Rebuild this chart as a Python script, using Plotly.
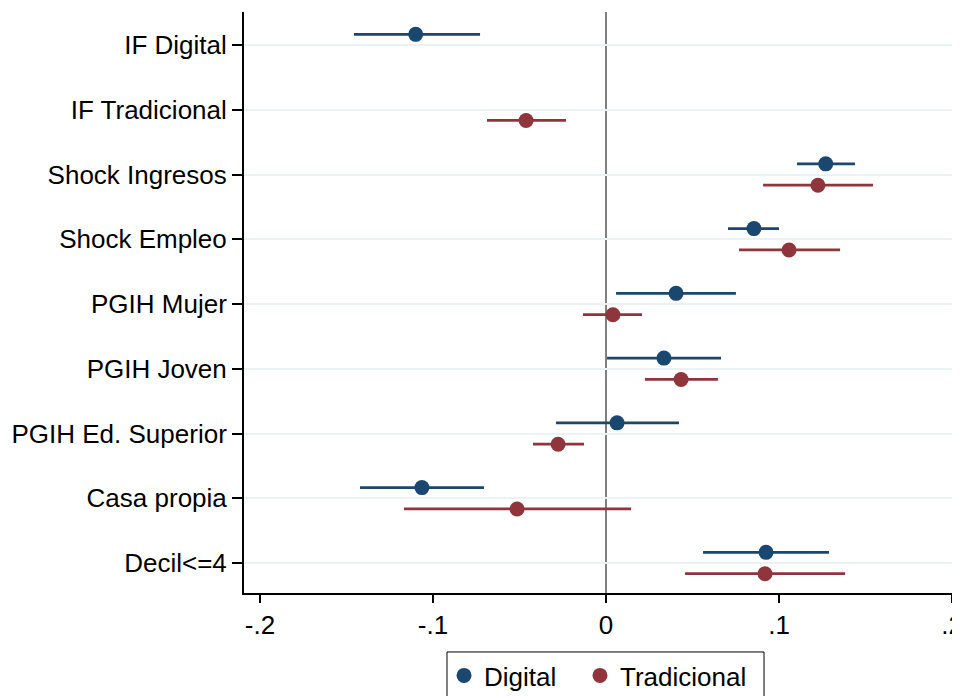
import plotly.graph_objects as go

categories = ["IF Digital", "IF Tradicional", "Shock Ingresos", "Shock Empleo",
              "PGIH Mujer", "PGIH Joven", "PGIH Ed. Superior", "Casa propia", "Decil<=4"]

dig_cat = ["IF Digital", "Shock Ingresos", "Shock Empleo", "PGIH Mujer", "PGIH Joven",
           "PGIH Ed. Superior", "Casa propia", "Decil<=4"]
dig_coef = [-0.110, 0.127, 0.0855, 0.0405, 0.0335, 0.0064, -0.1064, 0.0925]
dig_lo = [-0.1457, 0.1104, 0.0705, 0.0058, 0.0006, -0.0289, -0.1422, 0.0561]
dig_hi = [-0.0728, 0.1439, 0.1000, 0.0751, 0.0665, 0.0422, -0.0705, 0.1289]

trad_cat = ["IF Tradicional", "Shock Ingresos", "Shock Empleo", "PGIH Mujer", "PGIH Joven",
            "PGIH Ed. Superior", "Casa propia", "Decil<=4"]
trad_coef = [-0.0462, 0.1225, 0.1058, 0.0040, 0.0434, -0.0277, -0.0514, 0.0919]
trad_lo = [-0.0688, 0.0908, 0.0769, -0.0133, 0.0225, -0.0422, -0.1168, 0.0457]
trad_hi = [-0.0231, 0.1543, 0.1353, 0.0208, 0.0647, -0.0127, 0.0145, 0.1382]

x_tickvals = [-0.2, -0.1, 0, 0.1, 0.2]
x_ticktext = ["-.2", "-.1", "0", ".1", ".2"]

NAVY = "#1a476f"
MAROON = "#90353b"
OFF = 0.165

pos = {c: i + 1 for i, c in enumerate(categories)}

def ypos(cats, off):
    return [pos[c] + off for c in cats]

fig = go.Figure()
fig.add_shape(type="line", x0=0, x1=0, y0=0, y1=1, xref="x", yref="paper",
              line=dict(color="#808080", width=2), layer="below")
# legend frame
fig.add_shape(type="rect", xref="paper", yref="paper",
              x0=0.2835, x1=0.7263, y0=-0.1015, y1=-0.2,
              line=dict(color="black", width=1), fillcolor="rgba(0,0,0,0)")

for name, cats, coef, lo, hi, col, off, leg in [
    ("Digital", dig_cat, dig_coef, dig_lo, dig_hi, NAVY, -OFF, "legend"),
    ("Tradicional", trad_cat, trad_coef, trad_lo, trad_hi, MAROON, OFF, "legend2"),
]:
    fig.add_trace(go.Scatter(
        x=coef, y=ypos(cats, off), mode="markers", name=name, legend=leg,
        marker=dict(color=col, size=15, line=dict(width=0)),
        error_x=dict(type="data", symmetric=False,
                     array=[h - c for h, c in zip(hi, coef)],
                     arrayminus=[c - l for c, l in zip(coef, lo)],
                     color=col, thickness=2.7, width=0),
    ))

FONT = "Liberation Sans, Arial, sans-serif"
leg_common = dict(orientation="h", xref="container", yref="container",
                  xanchor="left", y=0.0747, yanchor="top",
                  borderwidth=0, bgcolor="rgba(0,0,0,0)", font=dict(size=26),
                  itemsizing="trace")
fig.update_layout(
    width=960, height=696,
    margin=dict(l=236, r=8, t=4, b=111, autoexpand=False),
    plot_bgcolor="white", paper_bgcolor="white",
    font=dict(family=FONT, size=26, color="black"),
    showlegend=True,
    legend=dict(x=0.4542, **leg_common),
    legend2=dict(x=0.5958, **leg_common),
    xaxis=dict(range=[-0.20925, 0.20462], tickvals=x_tickvals, ticktext=x_ticktext,
               showgrid=False, zeroline=False, showline=True, linecolor="black",
               linewidth=2, ticks="outside", ticklen=8, tickwidth=2, tickcolor="black",
               tickfont=dict(size=26), automargin=False),
    yaxis=dict(range=[9.463, 0.49], tickvals=list(range(1, 10)), ticktext=categories,
               showgrid=True, gridcolor="#eaf2f3", gridwidth=2, zeroline=False,
               showline=True, linecolor="black", linewidth=2, ticks="outside",
               ticklen=10, tickwidth=2, tickcolor="black", tickfont=dict(size=26),
               automargin=False),
)

fig.write_html("out.html")
